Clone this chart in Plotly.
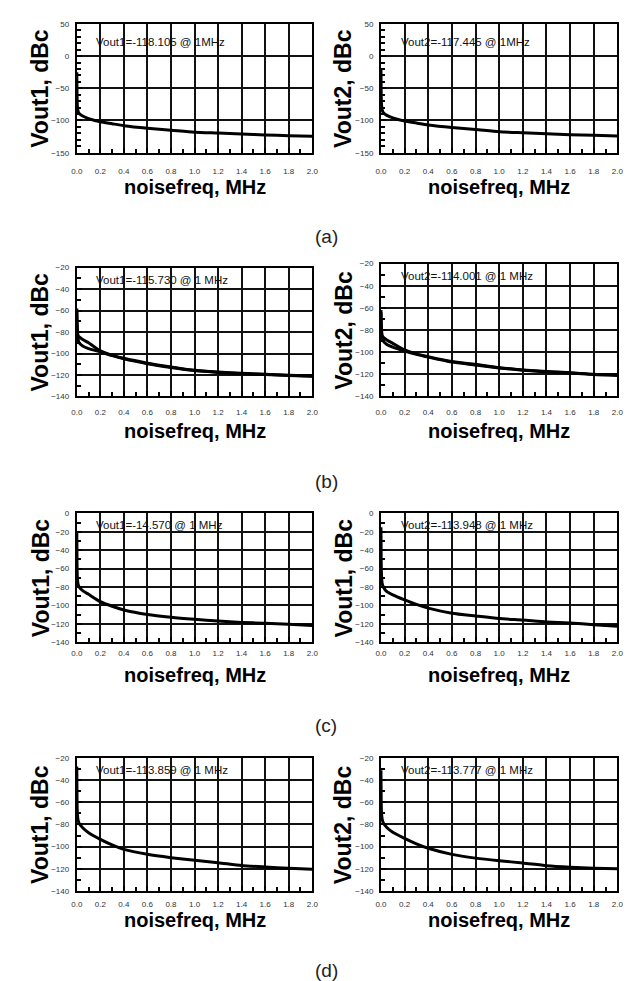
import plotly.graph_objects as go

# ---------------- data ----------------
freq = [0.0, 0.002, 0.005, 0.01, 0.02, 0.05, 0.1, 0.2, 0.3, 0.4, 0.6, 0.8, 1.0, 1.2, 1.4, 1.6, 1.8, 2.0]

a_vout1 = [-25, -60, -78, -85, -89, -93, -97, -102, -105, -108, -112, -115, -118.1, -119.5, -121, -122.5, -123.5, -124.5]
a_vout2 = [-20, -58, -76, -83, -88, -92, -96, -101, -104, -107, -111, -114, -117.4, -119, -120.5, -122, -123, -124]

b_vout1_a = [-58, -70, -78, -83, -84.5, -87, -90, -97.5, -101.5, -104.5, -109, -112.5, -115.7, -117.3, -118.5, -119.3, -120.2, -121]
b_vout1_b = [-60, -72, -80, -86, -90, -93, -95.5, -98.5, -102, -105, -109.5, -113, -115.9, -117.6, -118.8, -119.6, -120.5, -121.2]
b_vout2_a = [-62, -72, -80, -85, -86.5, -89, -92, -98, -101.5, -104, -108.5, -111, -114.0, -116, -117.5, -118.5, -120, -120.7]
b_vout2_b = [-64, -74, -82, -87, -90, -93, -95.5, -99, -102, -104.5, -109, -111.5, -114.2, -116.3, -117.8, -118.8, -120.2, -121]

c_vout1 = [-21, -55, -70, -76.5, -80, -84, -88, -96, -101, -105, -110, -113, -115.2, -117, -118.5, -119.5, -120.6, -122]
c_vout2 = [-15, -52, -68, -76, -80, -85, -88.5, -94, -99, -103, -108.5, -111.5, -114.3, -116, -118, -119.2, -121, -122.6]

d_vout1 = [-27.5, -58, -70, -75.5, -79, -83, -87.5, -93.5, -98.5, -102.5, -107, -110, -112.4, -114.5, -117, -118.4, -119.6, -120.5]
d_vout2 = [-31, -58, -70, -75, -78.5, -82.7, -87, -92.5, -97.5, -101.5, -107, -110.4, -112.8, -114.8, -117.2, -118.6, -119.5, -120]

x_ticks = [0.0, 0.2, 0.4, 0.6, 0.8, 1.0, 1.2, 1.4, 1.6, 1.8, 2.0]
x_ticklabels = ["0.0", "0.2", "0.4", "0.6", "0.8", "1.0", "1.2", "1.4", "1.6", "1.8", "2.0"]

y_ranges = {"a": (-150, 50, 50, 10), "b": (-140, -20, 20, 10), "c": (-140, 0, 20, 10), "d": (-140, -20, 20, 10)}

panel_labels = ["(a)", "(b)", "(c)", "(d)"]
note_texts = [
    ("Vout1=-118.105 @ 1MHz", "Vout2=-117.445 @ 1MHz"),
    ("Vout1=-115.730 @ 1 MHz", "Vout2=-114.001 @ 1 MHz"),
    ("Vout1=-14.570 @ 1 MHz", "Vout2=-113.948 @ 1 MHz"),
    ("Vout1=-113.859 @ 1 MHz", "Vout2=-113.777 @ 1 MHz"),
]
y_titles = [
    ("Vout1, dBc", "Vout2, dBc"),
    ("Vout1, dBc", "Vout2, dBc"),
    ("Vout1, dBc", "Vout1, dBc"),
    ("Vout1, dBc", "Vout2, dBc"),
]
x_title = "noisefreq, MHz"

series = [
    ([a_vout1], [a_vout2]),
    ([b_vout1_a, b_vout1_b], [b_vout2_a, b_vout2_b]),
    ([c_vout1], [c_vout2]),
    ([d_vout1], [d_vout2]),
]

# ---------------- layout geometry (pixels) ----------------
W, H = 637, 981
col_x = [(64, 304), (374, 615)]
row_y = [(12, 142), (258, 388), (506, 636), (753, 887)]
row_y_right = [(12, 142), (254, 388), (506, 636), (753, 887)]
xlab_standoff = [10, 7, 2, 5]
xtitle_y = [177, 423, 669, 916]
plabel_y = [227, 474, 720, 967]

def px(x):
    return x / W

def py(y):
    return 1 - y / H

fig = go.Figure()
keys = ["a", "b", "c", "d"]
ax = 0
for r in range(4):
    lo, hi, dt, mdt = y_ranges[keys[r]]
    for c in range(2):
        ax += 1
        xa = "x" if ax == 1 else f"x{ax}"
        ya = "y" if ax == 1 else f"y{ax}"
        ys = series[r][c]
        for yv in ys:
            fig.add_trace(go.Scatter(x=freq, y=yv, mode="lines", line=dict(color="black", width=3, shape="spline", smoothing=0.6),
                                     xaxis=xa, yaxis=ya, showlegend=False, hoverinfo="skip"))
        x0, x1 = col_x[c]
        ry = row_y if c == 0 else row_y_right
        y0, y1 = ry[r]
        common = dict(showline=True, linecolor="black", linewidth=2, mirror=True,
                      showgrid=True, gridcolor="#111", gridwidth=2, zeroline=False,
                      ticks="inside", ticklen=5, tickwidth=1.5, tickcolor="black",
                      tickfont=dict(family="Liberation Sans, Arial", size=8, color="#333"))
        fig.layout[f"xaxis{ax if ax > 1 else ''}"] = dict(
            domain=[px(x0), px(x1)], anchor=ya, range=[0, 2.0],
            tickvals=x_ticks, ticktext=x_ticklabels,
            ticklabelstandoff=xlab_standoff[r],
            minor=dict(ticks="inside", dtick=0.1, ticklen=4, tickcolor="black", tickwidth=1.5, showgrid=False),
            **common)
        fig.layout[f"yaxis{ax if ax > 1 else ''}"] = dict(
            domain=[py(y1), py(y0)], anchor=xa, range=[lo, hi], dtick=dt, tick0=0,
            ticklabelstandoff=4,
            minor=dict(ticks="inside", dtick=mdt, ticklen=4, tickcolor="black", tickwidth=1.5, showgrid=False),
            **common)
        # note text
        fig.add_annotation(x=px(x0 + 18), y=py(y0 + 18 if r == 0 else y0 + 12), xref="paper", yref="paper",
                           text=note_texts[r][c], showarrow=False, xanchor="left", yanchor="middle",
                           font=dict(family="Liberation Sans, Arial", size=11.5, color="#111"))
        # y title
        fig.add_annotation(x=px(27 if c == 0 else 336), y=py((y0 + y1) / 2), xref="paper", yref="paper",
                           text=f"<b>{y_titles[r][c]}</b>", textangle=-90, showarrow=False,
                           xanchor="center", yanchor="middle",
                           font=dict(family="Liberation Sans, Arial", size=23, color="black"))
        # x title
        fig.add_annotation(x=px((x0 + x1) / 2), y=py(xtitle_y[r]), xref="paper", yref="paper",
                           text=f"<b>{x_title}</b>", showarrow=False, xanchor="center", yanchor="middle",
                           font=dict(family="Liberation Sans, Arial", size=20, color="black"))
    fig.add_annotation(x=px(318), y=py(plabel_y[r]), xref="paper", yref="paper", text=panel_labels[r],
                       showarrow=False, xanchor="center", yanchor="middle",
                       font=dict(family="Liberation Sans, Arial", size=19, color="#222"))

fig.update_layout(width=W, height=H, margin=dict(l=0, r=0, t=0, b=0),
                  paper_bgcolor="white", plot_bgcolor="white", showlegend=False)

fig.write_html("out.html")
